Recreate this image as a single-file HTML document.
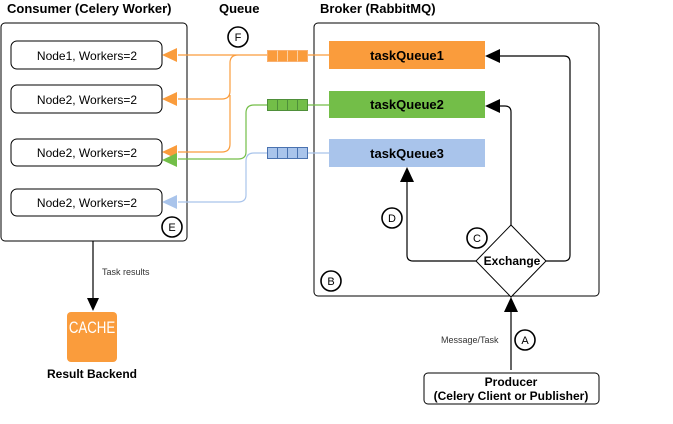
<!DOCTYPE html>
<html><head><style>
body{margin:0;background:#fff;}
svg{display:block;font-family:"Liberation Sans",Arial,sans-serif;}
</style></head><body>
<svg width="673" height="424" viewBox="0 0 673 424" xmlns="http://www.w3.org/2000/svg">
<g font-weight="bold" font-size="13" fill="#000">
<text x="7" y="13">Consumer (Celery Worker)</text>
<text x="219" y="13">Queue</text>
<text x="320" y="13">Broker (RabbitMQ)</text>
</g>
<rect x="1" y="23" width="186" height="218" rx="4" fill="#fff" stroke="#000"/>
<rect x="314" y="23" width="285" height="273" rx="4" fill="#fff" stroke="#000"/>
<g fill="#fff" stroke="#000">
<rect x="11" y="41" width="151" height="28" rx="6"/>
<rect x="11" y="85" width="151" height="28" rx="6"/>
<rect x="11" y="139" width="151" height="27" rx="6"/>
<rect x="11" y="189" width="151" height="27" rx="6"/>
</g>
<g font-size="12" text-anchor="middle" fill="#000">
<text x="87" y="60">Node1, Workers=2</text>
<text x="87" y="104">Node2, Workers=2</text>
<text x="87" y="157">Node2, Workers=2</text>
<text x="87" y="207">Node2, Workers=2</text>
</g>
<rect x="329" y="41" width="156" height="28" fill="#fa9c3c"/>
<rect x="329" y="91" width="156" height="27" fill="#73be48"/>
<rect x="329" y="139" width="156" height="28" fill="#a9c4eb"/>
<g font-weight="bold" font-size="13" text-anchor="middle" fill="#000">
<text x="407" y="60">taskQueue1</text>
<text x="407" y="109">taskQueue2</text>
<text x="407" y="158">taskQueue3</text>
</g>
<g fill="none" stroke-width="1.2">
<path d="M329 55 H178 M267 55 H238 Q230 55 230 63 V91 Q230 99 222 99 H178 M230 95 V144 Q230 152 222 152 H178" stroke="#fa9c3c"/>
<path d="M329 105 H254 Q246 105 246 113 V152 Q246 159 238 159 H178" stroke="#73be48"/>
<path d="M329 153 H254 Q246 153 246 161 V195 Q246 202 238 202 H178" stroke="#a9c4eb"/>
</g>
<polygon points="162,55 177,48 177,62" fill="#fa9c3c"/>
<polygon points="162,99 177,92 177,106" fill="#fa9c3c"/>
<polygon points="162,152 177,145 177,159" fill="#fa9c3c"/>
<polygon points="162,160 177,153 177,167" fill="#73be48"/>
<polygon points="162,202 177,195 177,209" fill="#a9c4eb"/>
<g stroke-width="1">
<rect x="267.5" y="50.5" width="40" height="11" fill="#fa9c3c" stroke="#f8b070"/>
<path d="M277.5 50.5V61.5M287.5 50.5V61.5M297.5 50.5V61.5" stroke="#fcd0a0"/>
<rect x="267.5" y="99.5" width="40" height="11" fill="#73be48" stroke="#4f8f3a"/>
<path d="M277.5 99.5V110.5M287.5 99.5V110.5M297.5 99.5V110.5" stroke="#4f8f3a"/>
<rect x="267.5" y="147.5" width="40" height="11" fill="#a9c4eb" stroke="#4a72b0"/>
<path d="M277.5 147.5V158.5M287.5 147.5V158.5M297.5 147.5V158.5" stroke="#4a72b0"/>
</g>
<g fill="none" stroke="#000" stroke-width="1.2">
<path d="M546 261 H564 Q570 261 570 255 V62 Q570 56 564 56 H500"/>
<path d="M511 225 V112 Q511 106 505 106 H500"/>
<path d="M476 261 H413 Q407 261 407 255 V182"/>
<path d="M511 370 V312"/>
<path d="M93 241 V298"/>
</g>
<polygon points="485,56 500,49 500,63" fill="#000"/>
<polygon points="485,106 500,99 500,113" fill="#000"/>
<polygon points="407,167 400,182 414,182" fill="#000"/>
<polygon points="511,297 504,312 518,312" fill="#000"/>
<polygon points="93,311 87,298 99,298" fill="#000"/>
<polygon points="511,225 546,261 511,297 476,261" fill="#fff" stroke="#000"/>
<text x="512" y="265" font-size="12" font-weight="bold" text-anchor="middle">Exchange</text>
<g fill="#fff" stroke="#000" stroke-width="1.6">
<circle cx="238" cy="37" r="10"/>
<circle cx="172" cy="227" r="10"/>
<circle cx="392" cy="218" r="10"/>
<circle cx="477" cy="238" r="10"/>
<circle cx="331" cy="281" r="10"/>
<circle cx="525" cy="340" r="10"/>
</g>
<g font-size="11" text-anchor="middle" fill="#000">
<text x="238" y="41">F</text>
<text x="172" y="231">E</text>
<text x="392" y="222">D</text>
<text x="477" y="242">C</text>
<text x="331" y="285">B</text>
<text x="525" y="344">A</text>
</g>
<text x="102" y="275" font-size="9" fill="#333">Task results</text>
<text x="441" y="343" font-size="9" fill="#333">Message/Task</text>
<rect x="67" y="312" width="50" height="50" rx="4" fill="#fa9c3c"/>
<g transform="translate(92,333) scale(0.78,1)"><text x="0" y="0" font-size="17" fill="#fff" text-anchor="middle">CACHE</text></g>
<text x="92" y="378" font-size="12" font-weight="bold" text-anchor="middle">Result Backend</text>
<rect x="424" y="373" width="175" height="31" rx="4" fill="#fff" stroke="#000"/>
<g font-size="12" font-weight="bold" text-anchor="middle">
<text x="511" y="386">Producer</text>
<text x="511" y="400">(Celery Client or Publisher)</text>
</g>
</svg>
</body></html>
